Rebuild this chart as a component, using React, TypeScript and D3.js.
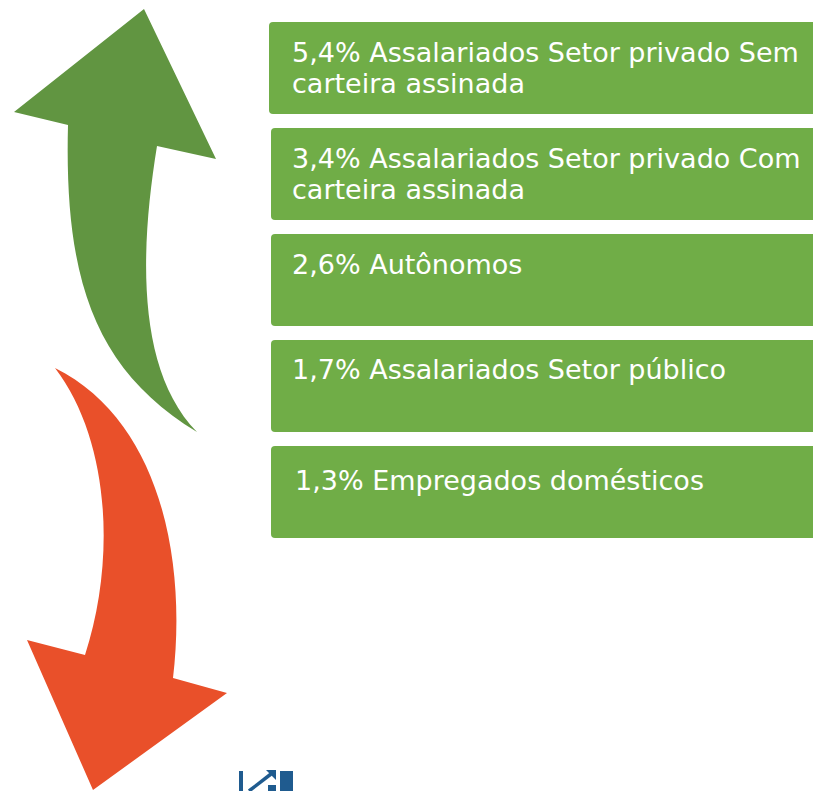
import { useEffect, useRef } from "react";
import * as d3 from "d3";

// growth by occupation category (%)
const values = [5.4, 3.4, 2.6, 1.7, 1.3];
const categories = [
  "Assalariados Setor privado Sem carteira assinada",
  "Assalariados Setor privado Com carteira assinada",
  "Autônomos",
  "Assalariados Setor público",
  "Empregados domésticos",
];

const W = 813;
const H = 791;

const ptBR = d3.formatLocale({ decimal: ",", thousands: ".", grouping: [3], currency: ["R$", ""] });
const fmt = ptBR.format(".1f");

const App = () => {
  const svgRef = useRef<SVGSVGElement>(null);

  useEffect(() => {
    const svg = d3.select(svgRef.current);
    svg.selectAll("*").remove();

    // green curved arrow (up)
    const up = d3.path();
    up.moveTo(144, 9);
    up.lineTo(216, 159);
    up.lineTo(157, 146);
    up.bezierCurveTo(140, 250, 136, 370, 197, 432);
    up.bezierCurveTo(95, 370, 64, 280, 68, 125);
    up.lineTo(14, 112);
    up.closePath();
    svg.append("path").attr("d", up.toString()).attr("fill", "#619541");

    // orange curved arrow (down)
    const down = d3.path();
    down.moveTo(55, 368);
    down.bezierCurveTo(160, 420, 187, 560, 173, 678);
    down.lineTo(227, 693);
    down.lineTo(93, 790);
    down.lineTo(27, 640);
    down.lineTo(85, 655);
    down.bezierCurveTo(116, 560, 110, 440, 55, 368);
    down.closePath();
    svg.append("path").attr("d", down.toString()).attr("fill", "#E9502A");

    // boxes
    const y = d3
      .scaleBand<string>()
      .domain(categories)
      .range([22, 538])
      .paddingInner(0.132)
      .paddingOuter(0);

    const rows = svg
      .selectAll("g.row")
      .data(categories)
      .join("g")
      .attr("class", "row")
      .attr("transform", (d) => `translate(0, ${y(d)})`);

    rows
      .append("rect")
      .attr("x", (_, i) => (i === 0 ? 269 : 271))
      .attr("width", 600)
      .attr("height", y.bandwidth())
      .attr("rx", 4)
      .attr("fill", "#70AD47");

    const maxW = 521;
    rows.each(function (d, i) {
      const g = d3.select(this);
      const tx = i === 4 ? 295 : 292;
      const words = `${fmt(values[i])}% ${d}`.split(" ");
      const text = g
        .append("text")
        .attr("y", i === 4 ? 44 : i === 3 ? 39 : 40)
        .attr("fill", "white")
        .attr("font-family", "'DejaVu Sans', Verdana, sans-serif")
        .attr("font-size", 27);
      let line: string[] = [];
      let tspan = text.append("tspan").attr("x", tx).attr("dy", 0);
      for (const w of words) {
        line.push(w);
        tspan.text(line.join(" "));
        if ((tspan.node() as SVGTSpanElement).getComputedTextLength() > maxW && line.length > 1) {
          line.pop();
          tspan.text(line.join(" "));
          line = [w];
          tspan = text.append("tspan").attr("x", tx).attr("dy", 31).text(w);
        }
      }
    });

    // small logo at the bottom
    const blue = "#1F5B8F";
    const logo = svg.append("g").attr("fill", blue);
    logo.append("rect").attr("x", 239).attr("y", 771).attr("width", 4).attr("height", 20);
    logo
      .append("line")
      .attr("x1", 249)
      .attr("y1", 791)
      .attr("x2", 271)
      .attr("y2", 774)
      .attr("stroke", blue)
      .attr("stroke-width", 3.5);
    logo.append("path").attr("d", "M266,770 L276,770 L276,780 Z");
    logo.append("rect").attr("x", 268).attr("y", 785).attr("width", 8).attr("height", 6);
    logo.append("rect").attr("x", 280).attr("y", 771).attr("width", 13).attr("height", 20);
  }, []);

  return (
    <div style={{ position: "absolute", left: 0, top: 0 }}>
      <svg ref={svgRef} width={W} height={H} style={{ display: "block", background: "white" }} />
    </div>
  );
};

export default App;
